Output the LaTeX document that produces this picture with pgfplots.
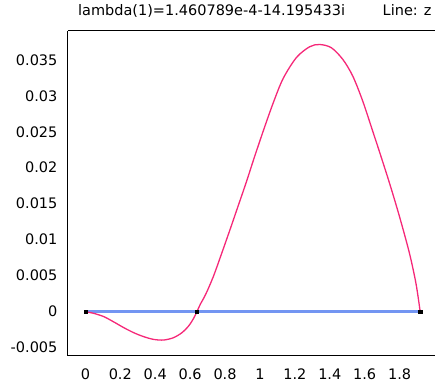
\documentclass[border=0pt]{standalone}
\usepackage{fontspec}
\setmainfont{DejaVu Sans}
\usepackage{pgfplots}
\pgfplotsset{compat=1.18}
\definecolor{pinkc}{RGB}{245,40,120}
\definecolor{bluec}{RGB}{90,130,240}
\begin{document}
\begin{tikzpicture}[x=1pt,y=1pt]
\begin{axis}[
  name=ax,
  at={(68pt,32pt)}, anchor=south west,
  scale only axis, width=367pt, height=325pt,
  xmin=-0.1, xmax=2.0, ymin=-0.0061, ymax=0.039,
  axis x line=box, axis y line=left,
  y axis line style={-},
  axis line style={line width=1pt},
  major tick length=0pt,
  xtick={0,0.2,0.4,0.6,0.8,1,1.2,1.4,1.6,1.8},
  xticklabels={0,0.2,0.4,0.6,0.8,1,1.2,1.4,1.6,1.8},
  ytick={-0.005,0,0.005,0.01,0.015,0.02,0.025,0.03,0.035},
  yticklabels={-0.005,0,0.005,0.01,0.015,0.02,0.025,0.03,0.035},
  scaled y ticks=false,
  tick label style={font=\fontsize{14.5}{16}\selectfont},
  yticklabel style={xshift=-7pt},
  xticklabel style={yshift=-10pt},
  title={lambda(1)=1.460789e-4-14.195433i\hspace{2.6em}Line: z},
  title style={at={(0.51,1)}, anchor=south, yshift=4pt, font=\fontsize{14.5}{16}\selectfont},
  clip=false,
]
\addplot[bluec, line width=2.6pt, opacity=0.85] coordinates {(0,0) (1.918,0)};
\addplot[pinkc, line width=1.3pt, smooth] coordinates {
(0,0) (0.049,-0.00024) (0.106,-0.00069) (0.163,-0.00143) (0.220,-0.00222)
(0.277,-0.00292) (0.334,-0.00347) (0.391,-0.00385) (0.448,-0.00394)
(0.505,-0.00361) (0.553,-0.00292) (0.591,-0.0020) (0.620,-0.00093) (0.639,0)
(0.658,0.00101) (0.690,0.00245) (0.734,0.00494) (0.782,0.00818) (0.829,0.01143) (0.876,0.01475)
(0.924,0.01815) (0.962,0.0210) (1.019,0.02511) (1.076,0.02900) (1.133,0.03240)
(1.209,0.03531) (1.285,0.03681) (1.342,0.03712) (1.409,0.03667) (1.475,0.03504)
(1.532,0.03272) (1.589,0.02925) (1.646,0.02508) (1.685,0.0222) (1.742,0.01788)
(1.799,0.01325) (1.856,0.00817) (1.894,0.0039) (1.918,0)
};
\addplot[only marks, mark=square*, mark size=1.6pt, black] coordinates {(0,0) (0.639,0) (1.918,0)};
\end{axis}
\path (0,0) rectangle (435pt,388pt);
\end{tikzpicture}
\end{document}
